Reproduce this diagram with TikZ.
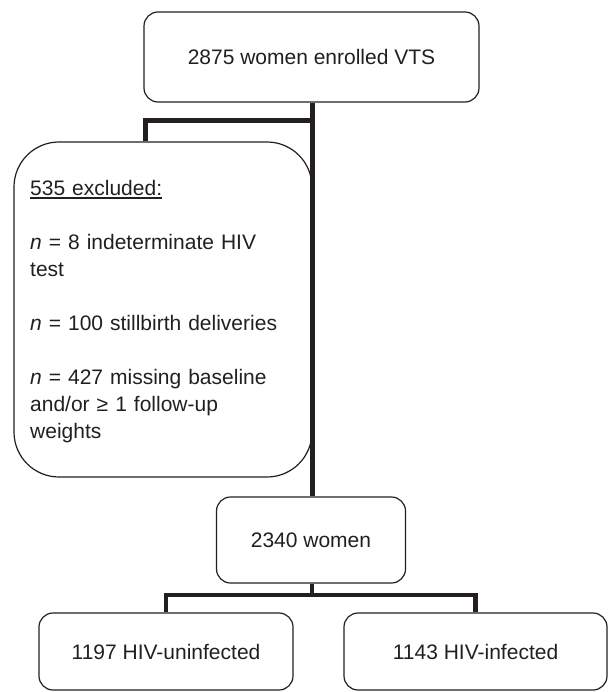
\documentclass[tikz,border=0pt]{standalone}
\usepackage{fontspec}
\setmainfont{Liberation Sans}
\definecolor{ink}{HTML}{231F20}
\newcommand\ulx[1]{\setbox0\hbox{#1}\rlap{\rule[-4pt]{\wd0}{1.8pt}}\box0}
\begin{document}
\begin{tikzpicture}[x=1pt,y=-1pt,
  box/.style={draw=ink,line width=1.2pt,rectangle,rounded corners=14pt,inner sep=0pt,
    font=\fontsize{21}{27}\selectfont,text=ink},
  txt/.style={inner sep=0pt,font=\fontsize{21}{27}\selectfont,text=ink},
  conn/.style={draw=ink,line width=5pt}]
\useasboundingbox (0,0) rectangle (608,692);
\node[box,minimum width=335pt,minimum height=90pt] (top) at (311.5,57) {2875 women enrolled VTS};
\node[box,rounded corners=45pt,minimum width=298pt,minimum height=335pt] (excl) at (163,309.5) {};
\node[txt,anchor=north west,text width=270pt,align=left] (excltxt) at (30,179.8)
  {\ulx{535 excluded:}\\[27pt]
   \textit{n} = 8 indeterminate HIV\\
   test\\[27pt]
   \textit{n} = 100 stillbirth deliveries\\[27pt]
   \textit{n} = 427 missing baseline\\
   and/or ≥ 1 follow-up\\
   weights};
\node[box,minimum width=189pt,minimum height=86pt] (mid) at (311,540) {2340 women};
\node[box,minimum width=254pt,minimum height=77pt] (left) at (166,651.5) {1197 HIV-uninfected};
\node[box,minimum width=263pt,minimum height=77pt] (right) at (475.5,651.5) {1143 HIV-infected};
\coordinate (j1) at (312,121);
\coordinate (bl) at (145,0);
\draw[conn] (top.south -| j1) -- (j1 |- mid.north);
\draw[conn] (excl.north -| bl) |- (j1);
\coordinate (j2) at (312,595);
\draw[conn,line width=3.5pt] (mid.south -| j2) -- (j2);
\draw[conn,line width=4.5pt] (left.north) -- (left.north |- j2) -| (right.north);
\end{tikzpicture}
\end{document}
